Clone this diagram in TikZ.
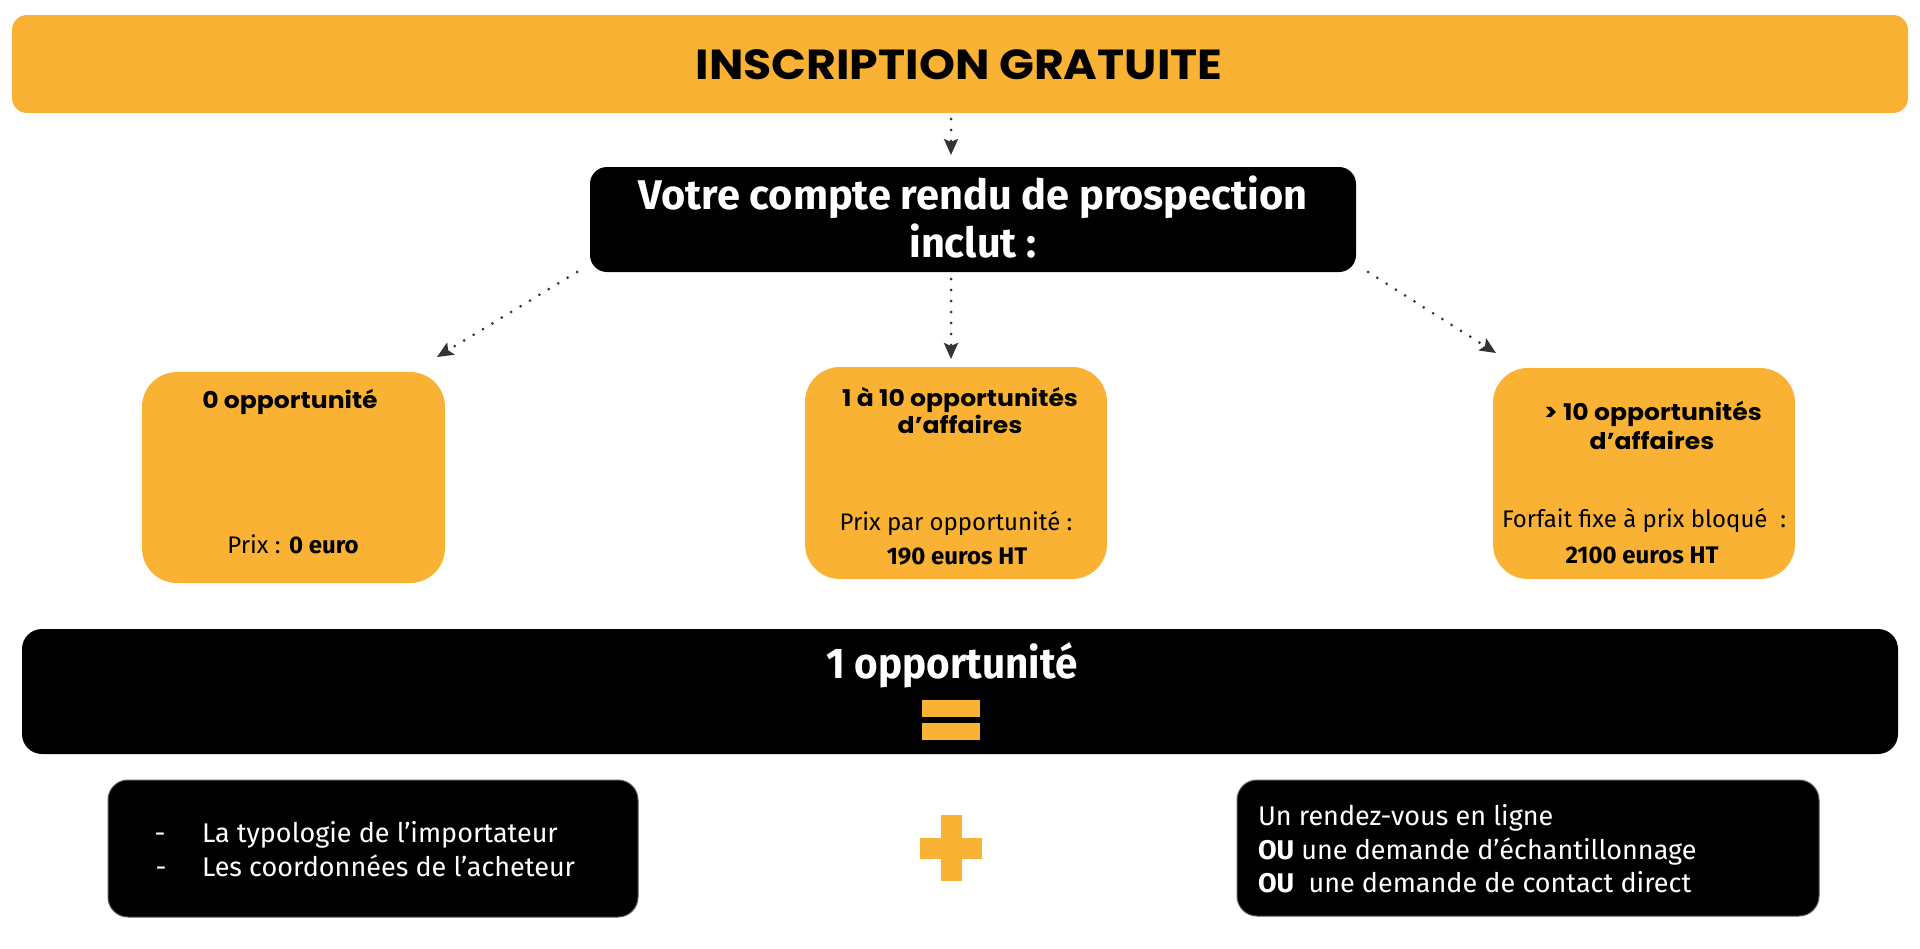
\documentclass[tikz,border=0pt]{standalone}
\usepackage{fontspec}
\setmainfont{Fira Sans}
\newfontfamily\mont{Poppins}[FakeStretch=1.09]
\newfontfamily\barl{Fira Sans}
\newfontfamily\barlc{Fira Sans}[FakeStretch=0.94]
\usetikzlibrary{arrows.meta}
\definecolor{org}{HTML}{F9B233}
\definecolor{arr}{HTML}{333333}
\begin{document}
\begin{tikzpicture}[x=1pt,y=-1pt,
  box/.style={rectangle,inner sep=0pt,outer sep=0pt},
  obox/.style={box,fill=org,rounded corners=35pt},
  bbox/.style={box,fill=black,rounded corners=20pt},
  kbox/.style={box,fill=black,draw=black!65,line width=1pt,rounded corners=20pt},
  txt/.style={inner sep=0pt,outer sep=0pt,anchor=base},
  ltxt/.style={inner sep=0pt,outer sep=0pt,anchor=base west},
  mtitle/.style={txt,font=\mont\bfseries\fontsize{23}{28}\selectfont},
  otext/.style={txt,font=\barl\fontsize{24}{29}\selectfont},
  wtext/.style={ltxt,text=white,font=\barl\fontsize{27}{32}\selectfont},
  dotarrow/.style={arr,line width=3pt,line cap=round,dash pattern=on 0pt off 11pt,
    -{Stealth[length=16pt,width=14pt,inset=3pt]}},
]
\path[use as bounding box,fill=white] (0,0) rectangle (1920,948);

% top bar
\node[box,fill=org,rounded corners=15pt,minimum width=1896pt,minimum height=98pt] (top) at (960,64) {};
\node[txt,font=\mont\bfseries\fontsize{42}{48}\selectfont] (toptxt) at (959,79) {INSCRIPTION GRATUITE};

% black header box
\node[box,fill=black,rounded corners=17pt,minimum width=766pt,minimum height=105pt] (v) at (973,219.5) {};
\node[txt,text=white,font=\barl\bfseries\fontsize{41.5}{48}\selectfont] (v1) at (973,209) {Votre compte rendu de prospection};
\node[txt,text=white,font=\barl\bfseries\fontsize{41.5}{48}\selectfont] (v2) at (973,257) {inclut :};

% orange boxes
\node[obox,minimum width=303pt,minimum height=211pt] (b1) at (293.5,477.5) {};
\node[obox,minimum width=302pt,minimum height=212pt] (b2) at (956,473) {};
\node[obox,minimum width=302pt,minimum height=211pt] (b3) at (1644,473.5) {};

\node[mtitle] (b1t) at (290,408) {0 opportunité};
\node[otext] (b1p) at (293,553) {Prix : \textbf{0 euro}};

\node[mtitle] (b2t1) at (960,406) {1 à 10 opportunités};
\node[mtitle] (b2t2) at (960,433) {d’affaires};
\node[otext] (b2p) at (956,530) {Prix par opportunité :};
\node[otext] (b2q) at (957,564) {\textbf{190 euros HT}};

\node[mtitle] (b3t1) at (1653,420) {> 10 opportunités};
\node[mtitle] (b3t2) at (1652,449) {d’affaires};
\node[otext] (b3p) at (1644,527) {Forfait fixe à prix bloqué~~:};
\node[otext] (b3q) at (1642,563) {\textbf{2100 euros HT}};

% connectors
\draw[dotarrow] ([xshift=-9pt,yshift=-6pt]top.south) -- ([xshift=-22pt,yshift=12pt]v.north);
\draw[dotarrow] ([xshift=-22pt,yshift=-7pt]v.south) -- ([xshift=-5pt,yshift=8pt]b2.north);
\draw[dotarrow] ([xshift=-13pt]v.south west) -- ([xshift=-8pt,yshift=15pt]b1.north east);
\draw[dotarrow] ([xshift=12pt]v.south east) -- ([xshift=3pt,yshift=15pt]b3.north west);

% 1 opportunite bar
\node[bbox,minimum width=1876pt,minimum height=125pt] (bar) at (960,691.5) {};
\node[txt,text=white,font=\barlc\bfseries\fontsize{43}{50}\selectfont] (bart) at (952,678) {1 opportunité};
\fill[org] (922,700) rectangle (980,717);
\fill[org] (922,723) rectangle (980,740);

% bottom boxes
\node[kbox,minimum width=530pt,minimum height=137pt] (bl) at (373,848.5) {};
\node[txt,text=white,font=\barl\fontsize{27}{32}\selectfont] (d1) at (160,842) {-};
\node[txt,text=white,font=\barl\fontsize{27}{32}\selectfont] (d2) at (161,876) {-};
\node[wtext] (bl1) at (202,842) {La typologie de l’importateur};
\node[wtext] (bl2) at (202,876) {Les coordonnées de l’acheteur};

\fill[org] (941,815) rectangle (962,881);
\fill[org] (920,838) rectangle (982,859);

\node[kbox,minimum width=582pt,minimum height=136pt] (br) at (1528,848) {};
\node[wtext] (br1) at (1258,825) {Un rendez-vous en ligne};
\node[wtext] (br2) at (1258,859) {\textbf{OU} une demande d’échantillonnage};
\node[wtext] (br3) at (1258,892) {\textbf{OU}\ \ une demande de contact direct};
\end{tikzpicture}
\end{document}
